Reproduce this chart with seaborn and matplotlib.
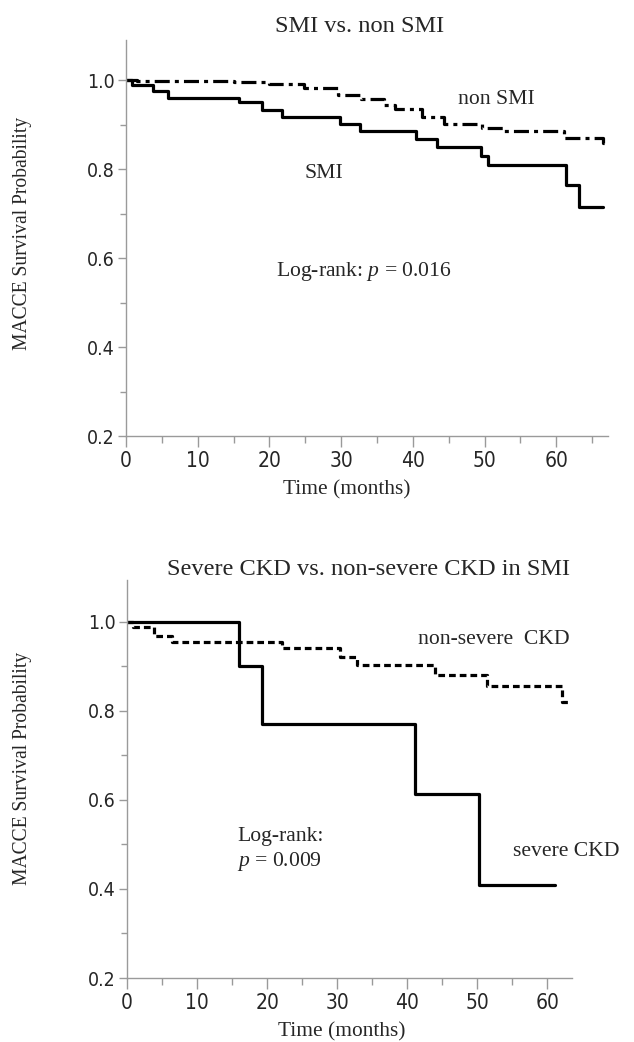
import pandas as pd
import matplotlib
matplotlib.use('Agg')
import matplotlib.pyplot as plt
import seaborn as sns
from matplotlib.ticker import MultipleLocator

# Kaplan-Meier step values (time in months, survival)
smi_time = [0, 0.8, 3.8, 5.9, 15.8, 18.9, 21.7, 29.8, 32.6, 40.5, 43.3, 49.5, 50.5, 61.4, 63.2, 66.5]
smi_surv = [1.0, 0.988, 0.975, 0.96, 0.95, 0.932, 0.916, 0.902, 0.886, 0.868, 0.849, 0.83, 0.808, 0.765, 0.714, 0.714]

nonsmi_time = [0, 1.5, 15, 20, 24.8, 29.5, 32.7, 36, 37.5, 41.2, 44.3, 49.7, 52.7, 61, 66.5, 66.9]
nonsmi_surv = [1.0, 0.998, 0.995, 0.99, 0.982, 0.967, 0.957, 0.945, 0.935, 0.916, 0.901, 0.893, 0.886, 0.869, 0.858, 0.858]

severe_time = [0, 16, 19.3, 41.1, 50.2, 61.1]
severe_surv = [1.0, 0.9, 0.77, 0.614, 0.41, 0.41]

nonsevere_time = [0, 0.9, 3.8, 6.4, 22.1, 30.4, 32.8, 44.0, 51.4, 62.1, 63.2]
nonsevere_surv = [1.0, 0.989, 0.968, 0.955, 0.942, 0.922, 0.903, 0.881, 0.857, 0.819, 0.819]

x_ticks = [0, 10, 20, 30, 40, 50, 60]
y_ticks = [0.2, 0.4, 0.6, 0.8, 1.0]

sns.set_theme(style='ticks')
plt.rcParams['font.family'] = ['Liberation Serif', 'DejaVu Serif']
plt.rcParams['mathtext.fontset'] = 'custom'
plt.rcParams['mathtext.rm'] = 'Liberation Serif'
plt.rcParams['mathtext.it'] = 'Liberation Serif:italic'

serif = ['Liberation Serif', 'DejaVu Serif']
narrow = ['DejaVu Sans']
axis_grey = '#9a9a9a'
W, H = 634, 1042

fig = plt.figure(figsize=(W / 100, H / 100), dpi=100)


def px_axes(left, top, right, bottom):
    return fig.add_axes([left / W, 1 - bottom / H, (right - left) / W, (bottom - top) / H])


def style_axes(ax, xmax, ymax):
    ax.set_xlim(0, xmax)
    ax.set_ylim(0.2, ymax)
    ax.set_xticks(x_ticks)
    ax.set_yticks(y_ticks)
    ax.set_xticklabels([str(t) for t in x_ticks], family=narrow, fontsize=15, stretch='condensed')
    ax.set_yticklabels([f'{t:.1f}' for t in y_ticks], family=narrow, fontsize=14, stretch='condensed')
    ax.xaxis.set_minor_locator(MultipleLocator(5))
    ax.yaxis.set_minor_locator(MultipleLocator(0.1))
    ax.tick_params(axis='x', which='major', length=8, width=1, color=axis_grey, pad=3)
    ax.tick_params(axis='x', which='minor', length=5, width=1, color=axis_grey)
    ax.tick_params(axis='y', which='major', length=6, width=1, color=axis_grey, pad=2)
    ax.tick_params(axis='y', which='minor', length=4, width=1, color=axis_grey)
    sns.despine(ax=ax)
    for s in ['left', 'bottom']:
        ax.spines[s].set_color(axis_grey)
        ax.spines[s].set_linewidth(1)
    ax.set_xlabel('')
    ax.set_ylabel('')


# ---- top panel: SMI vs non SMI
top_df = pd.concat([
    pd.DataFrame({'time': smi_time, 'surv': smi_surv, 'group': 'SMI'}),
    pd.DataFrame({'time': nonsmi_time, 'surv': nonsmi_surv, 'group': 'non SMI'}),
])
ax1 = px_axes(126, 40, 608, 436)
sns.lineplot(data=top_df, x='time', y='surv', style='group', color='black',
             dashes={'SMI': '', 'non SMI': (4.7, 1.6, 1.25, 1.6)},
             drawstyle='steps-post', estimator=None, sort=False, linewidth=2.3,
             legend=False, ax=ax1)
style_axes(ax1, 67.2, 1.09)
ax1.text(51.7, 0.956, 'non SMI', ha='center', va='center', fontsize=15.6, family=serif)
ax1.text(27.6, 0.79, 'SMI', ha='center', va='center', fontsize=15.6, family=serif)
ax1.text(20.9, 0.569, 'Log-rank: $p$ = 0.016', ha='left', va='center', fontsize=15.6, family=serif)

# ---- bottom panel: severe CKD vs non-severe CKD in SMI
bot_df = pd.concat([
    pd.DataFrame({'time': severe_time, 'surv': severe_surv, 'group': 'severe CKD'}),
    pd.DataFrame({'time': nonsevere_time, 'surv': nonsevere_surv, 'group': 'non-severe CKD'}),
])
ax2 = px_axes(127, 580, 572, 978)
sns.lineplot(data=bot_df, x='time', y='surv', style='group', color='black',
             dashes={'severe CKD': '', 'non-severe CKD': (2.1, 1.25)},
             drawstyle='steps-post', estimator=None, sort=False, linewidth=2.3,
             legend=False, ax=ax2)
style_axes(ax2, 63.5, 1.094)
ax2.text(52.3, 0.961, 'non-severe  CKD', ha='center', va='center', fontsize=15.6, family=serif)
ax2.text(15.7, 0.518, 'Log-rank:', ha='left', va='center', fontsize=15.6, family=serif)
ax2.text(15.7, 0.462, '$p$ = 0.009', ha='left', va='center', fontsize=15.6, family=serif)
ax2.text(55.1, 0.484, 'severe CKD', ha='left', va='center', fontsize=15.6, family=serif)

# titles and axis labels placed in figure pixels
fig.text(360 / W, 1 - 32 / H, 'SMI vs. non SMI', ha='center', va='baseline', fontsize=17.6, family=serif)
fig.text(368 / W, 1 - 575 / H, 'Severe CKD vs. non-severe CKD in SMI', ha='center', va='baseline',
         fontsize=17.6, family=serif)
fig.text(23 / W, 1 - 233 / H, 'MACCE Survival Probability', rotation=90, ha='center', va='center',
         fontsize=14.1, family=serif)
fig.text(23 / W, 1 - 768 / H, 'MACCE Survival Probability', rotation=90, ha='center', va='center',
         fontsize=14.1, family=serif)
fig.text(347 / W, 1 - 490 / H, 'Time (months)', ha='center', va='center', fontsize=15.4, family=serif)
fig.text(342 / W, 1 - 1032 / H, 'Time (months)', ha='center', va='center', fontsize=15.4, family=serif)

fig.savefig('out.png', dpi=100, facecolor='white')
